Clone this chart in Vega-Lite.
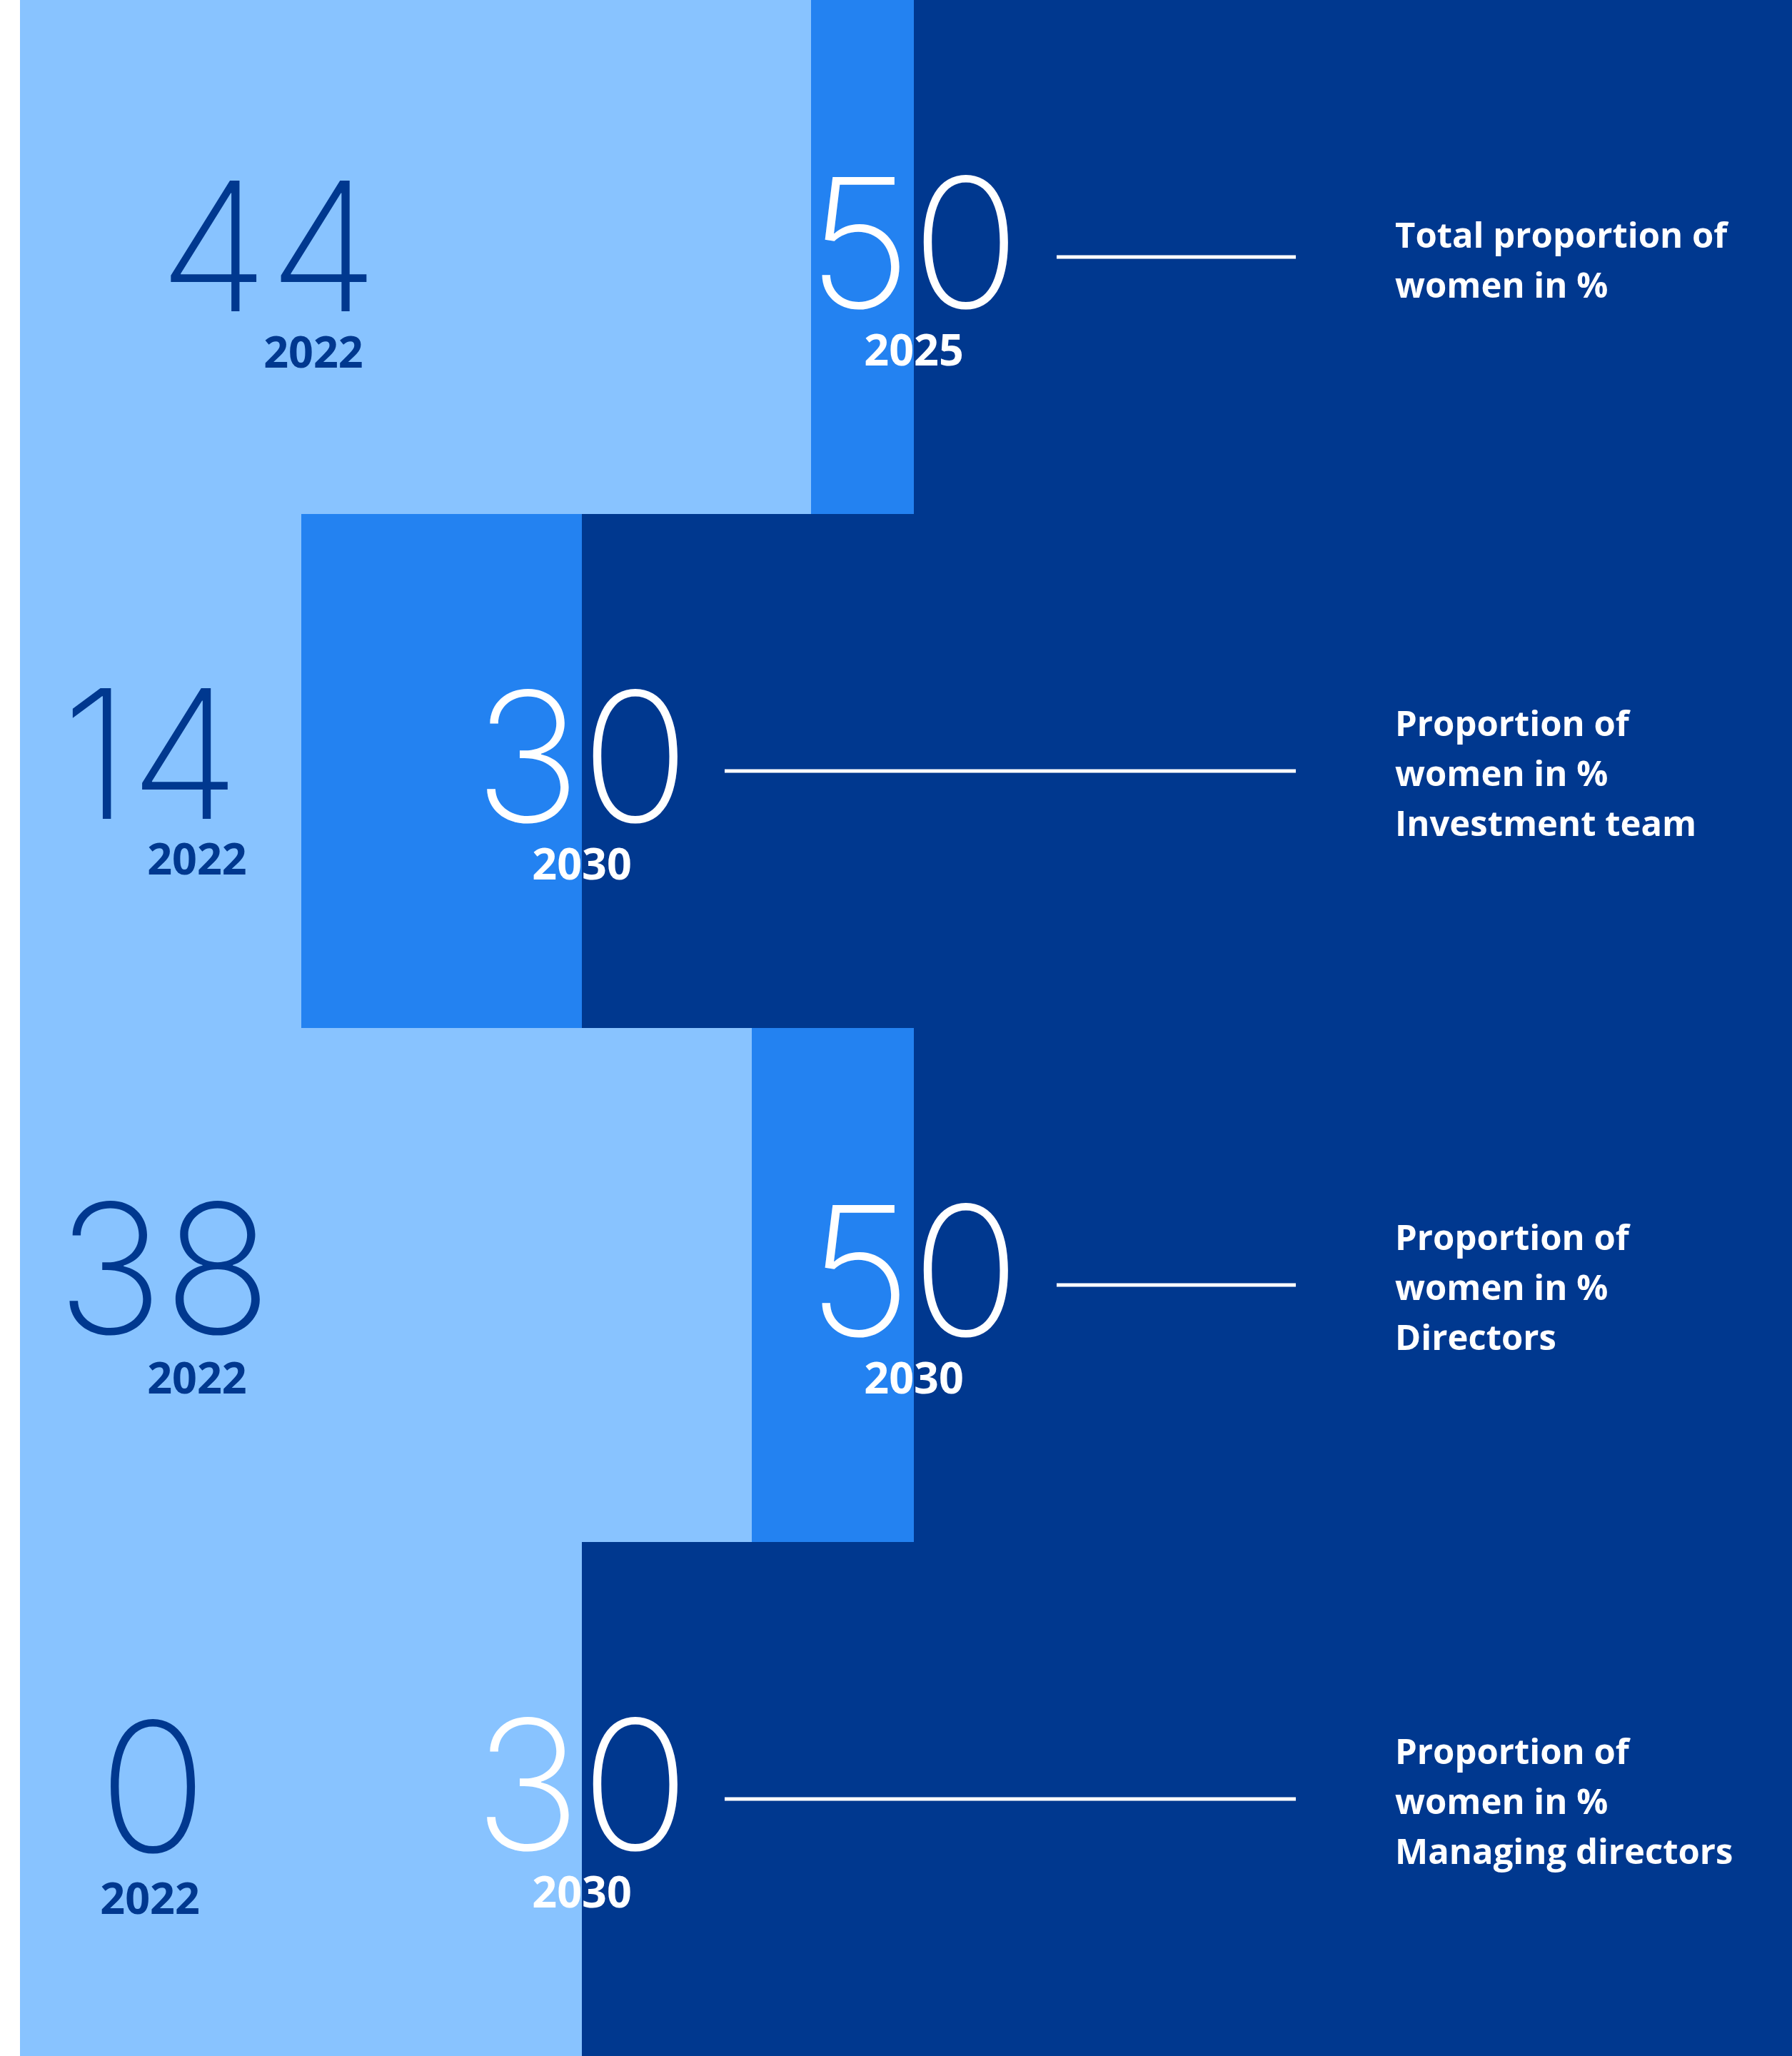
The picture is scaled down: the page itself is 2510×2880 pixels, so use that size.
{
  "$schema": "https://vega.github.io/schema/vega-lite/v6.json",
  "autosize": {"type": "fit", "contains": "padding"},
  "width": 2510,
  "height": 2880,
  "padding": 0,
  "background": "white",
  "config": {"view": {"stroke": null}},
  "datasets": {
    "rows": [
      {"row": 1, "label": "Total proportion of\nwomen in %", "v2022": 44, "year2022": "2022", "target": 50, "targetYear": "2025"},
      {"row": 2, "label": "Proportion of\nwomen in %\nInvestment team", "v2022": 14, "year2022": "2022", "target": 30, "targetYear": "2030"},
      {"row": 3, "label": "Proportion of\nwomen in %\nDirectors", "v2022": 38, "year2022": "2022", "target": 50, "targetYear": "2030"},
      {"row": 4, "label": "Proportion of\nwomen in %\nManaging directors", "v2022": 0, "year2022": "2022", "target": 30, "targetYear": "2030"}
    ],
    "segments": [
      {"row": 1, "part": "current", "start": 0, "end": 44},
      {"row": 1, "part": "gap", "start": 44, "end": 50},
      {"row": 1, "part": "rest", "start": 50, "end": 100},
      {"row": 2, "part": "current", "start": 0, "end": 14},
      {"row": 2, "part": "gap", "start": 14, "end": 30},
      {"row": 2, "part": "rest", "start": 30, "end": 100},
      {"row": 3, "part": "current", "start": 0, "end": 38},
      {"row": 3, "part": "gap", "start": 38, "end": 50},
      {"row": 3, "part": "rest", "start": 50, "end": 100},
      {"row": 4, "part": "current", "start": 0, "end": 30},
      {"row": 4, "part": "rest", "start": 30, "end": 100}
    ]
  },
  "encoding": {
    "y": {"field": "row", "type": "ordinal", "axis": null, "scale": {"paddingInner": 0, "paddingOuter": 0}}
  },
  "layer": [
    {
      "data": {"name": "segments"},
      "mark": {"type": "rect"},
      "encoding": {
        "x": {"field": "start", "type": "quantitative", "axis": null,
              "scale": {"type": "linear", "domain": [0, 14, 30, 38, 44, 50, 100], "range": [28, 422, 815, 1053, 1136, 1280, 2510], "nice": false, "zero": false}},
        "x2": {"field": "end"},
        "color": {"field": "part", "type": "nominal", "legend": null,
                  "scale": {"domain": ["current", "gap", "rest"], "range": ["#88C3FF", "#2382F1", "#00388F"]}}
      }
    },
    {
      "data": {"name": "rows"},
      "mark": {"type": "rule", "color": "white", "strokeWidth": 5, "xOffset": 200},
      "encoding": {
        "x": {"field": "target", "type": "quantitative"},
        "x2": {"datum": 71.75}
      }
    },
    {
      "data": {"name": "rows"},
      "mark": {"type": "text", "font": "Inter", "fontWeight": 200, "fontSize": 252, "color": "white", "align": "center", "baseline": "alphabetic", "dy": 71},
      "encoding": {
        "x": {"field": "target", "type": "quantitative"},
        "text": {"field": "target", "type": "quantitative"}
      }
    },
    {
      "data": {"name": "rows"},
      "mark": {"type": "text", "font": "Open Sans", "fontWeight": 700, "fontSize": 61, "color": "white", "align": "center", "baseline": "alphabetic", "dy": 152},
      "encoding": {
        "x": {"field": "target", "type": "quantitative"},
        "text": {"field": "targetYear", "type": "nominal"}
      }
    },
    {
      "data": {"name": "rows"},
      "transform": [{"filter": "datum.row === 1"}],
      "mark": {"type": "text", "font": "Open Sans", "fontWeight": 700, "fontSize": 49, "lineHeight": 70, "lineBreak": "\n", "color": "white", "align": "left", "baseline": "middle", "dy": -28},
      "encoding": {
        "x": {"datum": 77.4},
        "text": {"field": "label", "type": "nominal"}
      }
    },
    {
      "data": {"name": "rows"},
      "transform": [{"filter": "datum.row !== 1"}],
      "mark": {"type": "text", "font": "Open Sans", "fontWeight": 700, "fontSize": 49, "lineHeight": 70, "lineBreak": "\n", "color": "white", "align": "left", "baseline": "middle", "dy": -64},
      "encoding": {
        "x": {"datum": 77.4},
        "text": {"field": "label", "type": "nominal"}
      }
    },
    {
      "data": {"name": "rows"},
      "transform": [{"filter": "datum.row === 1"}],
      "mark": {"type": "text", "font": "Inter", "fontWeight": 200, "fontSize": 252, "color": "#00388F", "align": "center", "baseline": "alphabetic", "dy": 76},
      "encoding": {"x": {"datum": 12.37}, "text": {"field": "v2022", "type": "quantitative"}}
    },
    {
      "data": {"name": "rows"},
      "transform": [{"filter": "datum.row === 2"}],
      "mark": {"type": "text", "font": "Inter", "fontWeight": 200, "fontSize": 252, "color": "#00388F", "align": "center", "baseline": "alphabetic", "dy": 67},
      "encoding": {"x": {"datum": 6.5}, "text": {"field": "v2022", "type": "quantitative"}}
    },
    {
      "data": {"name": "rows"},
      "transform": [{"filter": "datum.row === 3"}],
      "mark": {"type": "text", "font": "Inter", "fontWeight": 200, "fontSize": 252, "color": "#00388F", "align": "center", "baseline": "alphabetic", "dy": 68},
      "encoding": {"x": {"datum": 7.18}, "text": {"field": "v2022", "type": "quantitative"}}
    },
    {
      "data": {"name": "rows"},
      "transform": [{"filter": "datum.row === 4"}],
      "mark": {"type": "text", "font": "Inter", "fontWeight": 200, "fontSize": 252, "color": "#00388F", "align": "center", "baseline": "alphabetic", "dy": 74},
      "encoding": {"x": {"datum": 6.61}, "text": {"field": "v2022", "type": "quantitative"}}
    },
    {
      "data": {"name": "rows"},
      "transform": [{"filter": "datum.row === 1"}],
      "mark": {"type": "text", "font": "Open Sans", "fontWeight": 700, "fontSize": 61, "color": "#00388F", "align": "center", "baseline": "alphabetic", "dy": 155},
      "encoding": {"x": {"datum": 14.69}, "text": {"field": "year2022", "type": "nominal"}}
    },
    {
      "data": {"name": "rows"},
      "transform": [{"filter": "datum.row === 2"}],
      "mark": {"type": "text", "font": "Open Sans", "fontWeight": 700, "fontSize": 61, "color": "#00388F", "align": "center", "baseline": "alphabetic", "dy": 145},
      "encoding": {"x": {"datum": 8.81}, "text": {"field": "year2022", "type": "nominal"}}
    },
    {
      "data": {"name": "rows"},
      "transform": [{"filter": "datum.row === 3"}],
      "mark": {"type": "text", "font": "Open Sans", "fontWeight": 700, "fontSize": 61, "color": "#00388F", "align": "center", "baseline": "alphabetic", "dy": 152},
      "encoding": {"x": {"datum": 8.81}, "text": {"field": "year2022", "type": "nominal"}}
    },
    {
      "data": {"name": "rows"},
      "transform": [{"filter": "datum.row === 4"}],
      "mark": {"type": "text", "font": "Open Sans", "fontWeight": 700, "fontSize": 61, "color": "#00388F", "align": "center", "baseline": "alphabetic", "dy": 161},
      "encoding": {"x": {"datum": 6.47}, "text": {"field": "year2022", "type": "nominal"}}
    }
  ]
}
